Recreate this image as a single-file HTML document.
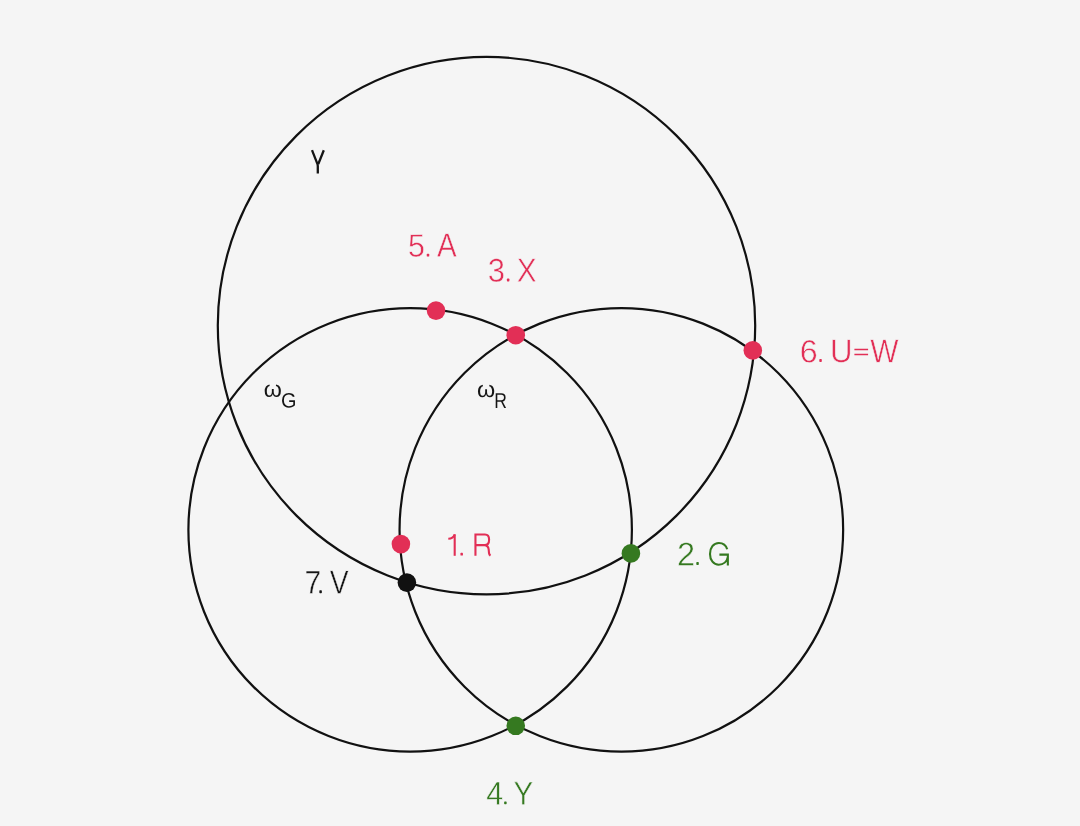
<!DOCTYPE html>
<html>
<head>
<meta charset="utf-8">
<style>
html,body{margin:0;padding:0;background:#f5f5f5;}
body{width:1080px;height:826px;overflow:hidden;}
svg{display:block;will-change:transform;}
text{font-family:"Liberation Sans",sans-serif;}
</style>
</head>
<body>
<svg width="1080" height="826" viewBox="0 0 1080 826">
<rect width="1080" height="826" fill="#f5f5f5"/>
<g fill="none" stroke="#111" stroke-width="2.2">
<circle cx="486.5" cy="325.6" r="268.7"/>
<circle cx="410.15" cy="529.85" r="221.75"/>
<circle cx="621.35" cy="529.85" r="221.8"/>
</g>
<g>
<circle cx="436.0" cy="310.6" r="9.3" fill="#e22f56"/>
<circle cx="515.75" cy="335.2" r="9.3" fill="#e22f56"/>
<circle cx="752.8" cy="350.4" r="9.3" fill="#e22f56"/>
<circle cx="400.9" cy="544.1" r="9.3" fill="#e22f56"/>
<circle cx="630.9" cy="553.4" r="9.3" fill="#357920"/>
<circle cx="406.9" cy="582.6" r="9.3" fill="#111"/>
<circle cx="515.75" cy="725.8" r="9.3" fill="#357920"/>
</g>
<g role="img" aria-label="5. A">
<text transform="translate(407.93 256.83) scale(0.3037 0.3253) rotate(0.05)" font-size="100" fill="#e22f56" stroke="#f5f5f5" stroke-width="1.590">5</text>
<rect x="426.75" y="253.70" width="2.5" height="2.9" rx="0.7" fill="#e22f56"/>
<text transform="translate(436.99 256.85) scale(0.2956 0.3343) rotate(0.05)" font-size="100" fill="#e22f56" stroke="#f5f5f5" stroke-width="1.588">A</text>
</g>
<g role="img" aria-label="3. X">
<text transform="translate(487.67 281.83) scale(0.3100 0.3319) rotate(0.05)" font-size="100" fill="#e22f56" stroke="#f5f5f5" stroke-width="1.558">3</text>
<rect x="506.90" y="278.60" width="2.5" height="2.9" rx="0.7" fill="#e22f56"/>
<text transform="translate(516.68 281.85) scale(0.2983 0.3343) rotate(0.05)" font-size="100" fill="#e22f56" stroke="#f5f5f5" stroke-width="1.581">X</text>
</g>
<g role="img" aria-label="6. U=W">
<text transform="translate(799.71 362.43) scale(0.3229 0.3234) rotate(0.05)" font-size="100" fill="#e22f56" stroke="#f5f5f5" stroke-width="1.547">6</text>
<rect x="819.30" y="359.10" width="2.5" height="2.9" rx="0.7" fill="#e22f56"/>
<text transform="translate(830.05 362.33) scale(0.3117 0.3268) rotate(0.05)" font-size="100" fill="#e22f56" stroke="#f5f5f5" stroke-width="1.566">U</text>
<path d="M854.4 349.5 H868.1 M854.4 354.5 H868.1" fill="none" stroke="#e22f56" stroke-width="1.6"/>
<text transform="translate(870.32 362.35) scale(0.2991 0.3285) rotate(0.05)" font-size="100" fill="#e22f56" stroke="#f5f5f5" stroke-width="1.593">W</text>
</g>
<g role="img" aria-label="1. R">
<path d="M454.7 555.8 V534.2" fill="none" stroke="#e22f56" stroke-width="2.1"/>
<path d="M454.6 534.6 C453.7 537.2 451.4 538.6 448.3 538.7" fill="none" stroke="#e22f56" stroke-width="2.1"/>
<rect x="460.45" y="552.70" width="2.5" height="2.9" rx="0.7" fill="#e22f56"/>
<path d="M475.45 555.8 V534.45 H485 C487.9 534.45 489.1 536.8 489.1 539.7 C489.1 542.8 487.5 545.1 484.6 545.1 H475.45 M484.4 545.1 C487.6 545.3 488.5 547.1 488.7 549.6 L489.0 553.0 C489.2 554.4 489.7 555.1 490.5 555.7" fill="none" stroke="#e22f56" stroke-width="2.1"/>
</g>
<g role="img" aria-label="2. G">
<text transform="translate(677.02 565.45) scale(0.3249 0.3308) rotate(0.05)" font-size="100" fill="#357920" stroke="#f5f5f5" stroke-width="1.525">2</text>
<rect x="696.30" y="562.10" width="2.5" height="2.9" rx="0.7" fill="#357920"/>
<path d="M727.2 549.3 C726.0 545.3 722.8 543.0 718.9 543.0 C713.4 543.0 710.0 547.9 710.0 553.9 C710.0 560.2 713.6 564.7 718.8 564.7 C723.4 564.7 727.0 561.6 727.85 557.0 M719.4 554.65 H728.9 M727.85 554.65 V565.5" fill="none" stroke="#357920" stroke-width="2.1"/>
</g>
<g role="img" aria-label="7. V">
<text transform="translate(304.60 593.55) scale(0.3014 0.3256) rotate(0.05)" font-size="100" fill="#151515" stroke="#f5f5f5" stroke-width="1.595">7</text>
<rect x="319.35" y="590.25" width="2.5" height="2.9" rx="0.7" fill="#151515"/>
<text transform="translate(329.63 593.55) scale(0.2826 0.3329) rotate(0.05)" font-size="100" fill="#151515" stroke="#f5f5f5" stroke-width="1.625">V</text>
</g>
<g role="img" aria-label="4. Y">
<text transform="translate(486.15 804.75) scale(0.3036 0.3299) rotate(0.05)" font-size="100" fill="#357920" stroke="#f5f5f5" stroke-width="1.578">4</text>
<rect x="504.15" y="801.40" width="2.5" height="2.9" rx="0.7" fill="#357920"/>
<text transform="translate(513.40 804.75) scale(0.2953 0.3329) rotate(0.05)" font-size="100" fill="#357920" stroke="#f5f5f5" stroke-width="1.592">Y</text>
</g>
<g role="img" aria-label="ωG">
<text transform="translate(263.66 396.68) scale(0.2317 0.2298) rotate(0.05)" font-size="100" fill="#151515">ω</text>
<text transform="translate(280.90 407.60) scale(0.1991 0.2076) rotate(0.05)" font-size="100" fill="#151515">G</text>
</g>
<g role="img" aria-label="ωR">
<text transform="translate(476.96 396.98) scale(0.2331 0.2280) rotate(0.05)" font-size="100" fill="#151515">ω</text>
<text transform="translate(494.16 407.90) scale(0.1752 0.2158) rotate(0.05)" font-size="100" fill="#151515">R</text>
</g>
<g role="img" aria-label="γ">
<path d="M312.0 150.2 L317.3 163.6 Q317.8 164.9 317.8 166.2 L317.8 173.6 M323.8 150.2 L318.3 164.0" fill="none" stroke="#151515" stroke-width="2.3"/>
</g>
</svg>
</body>
</html>
